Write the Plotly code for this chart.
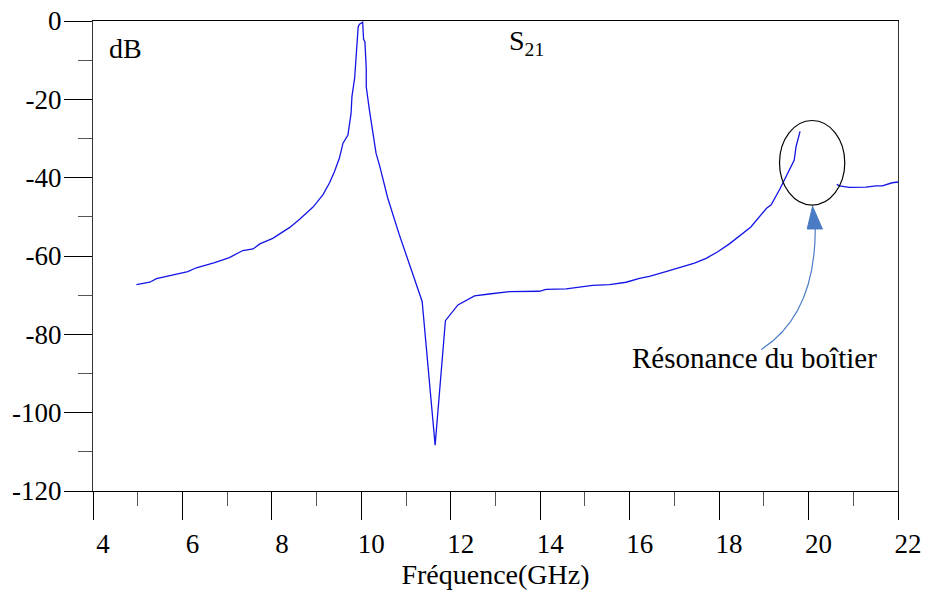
import plotly.graph_objects as go

# S21 trace (GHz, dB); None marks the gap inside the ellipse
freq_ghz = [4.97, 5.27, 5.42, 5.79, 6.12, 6.31, 6.72, 7.05, 7.35, 7.58, 7.73, 8.02, 8.40,
            8.62, 8.92, 9.14, 9.29, 9.40, 9.51, 9.59, 9.70, 9.77, 9.79, 9.85, 9.89, 9.92,
            9.93, 9.96, 10.02, 10.03, 10.05, 10.08, 10.11, 10.11, 10.18, 10.24, 10.33,
            10.41, 10.59, 10.85, 11.15, 11.36, 11.65, 11.88, 12.16, 12.53, 12.86, 13.31,
            13.98, 14.13, 14.58, 14.80, 15.17, 15.55, 15.77, 15.92, 16.22, 16.44, 16.81,
            17.11, 17.45, 17.71, 17.97, 18.23, 18.71, 19.06, 19.16, 19.35, 19.57, 19.68,
            19.72, 19.75, 19.81, 20.2,
            20.63, 20.69, 20.91, 21.28, 21.51, 21.65, 21.87, 22.0]
s21_db = [-67.3, -66.7, -65.8, -64.9, -64.0, -63.0, -61.7, -60.4, -58.6, -58.2, -56.9, -55.5,
          -52.7, -50.6, -47.5, -44.4, -41.3, -38.4, -35.0, -31.2, -29.1, -23.6, -19.3, -14.6,
          -8.2, -5.7, -1.45, -0.8, -0.4, -0.3, -4.7, -5.3, -12.1, -16.8, -22.7, -27.4, -33.8,
          -37.0, -45.2, -54.6, -64.8, -71.6, -108.3, -76.5, -72.5, -70.2, -69.7, -69.1,
          -69.0, -68.5, -68.4, -68.0, -67.5, -67.3, -66.9, -66.7, -65.7, -65.2, -64.0,
          -62.9, -61.8, -60.6, -58.9, -56.9, -52.6, -47.8, -47.0, -43.1, -38.0, -35.5,
          -32.1, -30.8, -28.2, None,
          -41.7, -42.1, -42.5, -42.4, -42.1, -42.1, -41.3, -41.1]

x_ticks = [4, 6, 8, 10, 12, 14, 16, 18, 20, 22]
x_minor = [5, 7, 9, 11, 13, 15, 17, 19, 21]
y_ticks = [0, -20, -40, -60, -80, -100, -120]
y_ticktext = ["0", "-20", "-40", "-60", "-80", "-100", "-120"]
y_minor = [-10, -30, -50, -70, -90, -110]

# annotation geometry (data units)
ellipse_box = (19.35, -47.0, 20.81, -25.4)
arrow_start = (18.94, -83.9)
arrow_ctrl = (20.15, -75.0)
arrow_end = (20.15, -53.1)
arrow_tip = (20.09, -47.3)
arrow_base = (19.97, 20.31, -53.1)

SERIF = "Liberation Serif"

fig = go.Figure()
fig.add_trace(go.Scatter(x=freq_ghz, y=s21_db, mode="lines", connectgaps=False,
                         line=dict(color="#1414e6", width=1.3), showlegend=False,
                         hoverinfo="skip"))

fig.update_layout(
    width=928, height=599,
    margin=dict(l=93, r=30, t=21, b=108, autoexpand=False),
    paper_bgcolor="white", plot_bgcolor="white",
    font=dict(family=SERIF, color="black"),
)
fig.update_xaxes(
    range=[4, 22], tickmode="array", tickvals=x_ticks,
    ticks="outside", ticklen=28, tickwidth=1, tickcolor="black",
    minor=dict(tickmode="array", tickvals=x_minor, ticks="outside", ticklen=14,
               tickcolor="#555555", tickwidth=1),
    showline=True, linecolor="black", linewidth=1.3, mirror=True,
    showgrid=False, zeroline=False, automargin=False,
    tickfont=dict(family=SERIF, size=27, color="black"),
    ticklabelshift=10, ticklabeloverflow="allow",
    title=dict(text="Fréquence(GHz)", font=dict(family=SERIF, size=28, color="black"),
               standoff=6),
)
fig.update_yaxes(
    range=[-120, 0], tickmode="array", tickvals=y_ticks, ticktext=y_ticktext,
    ticks="outside", ticklen=28, tickwidth=1, tickcolor="black",
    minor=dict(tickmode="array", tickvals=y_minor, ticks="outside", ticklen=14,
               tickcolor="#555555", tickwidth=1),
    showline=True, linecolor="#333333", linewidth=1, mirror=True,
    showgrid=False, zeroline=False, automargin=False,
    tickfont=dict(family=SERIF, size=27, color="black"),
    ticklabelstandoff=-3, ticklabeloverflow="allow",
)

fig.add_shape(type="circle", xref="x", yref="y",
              x0=ellipse_box[0], y0=ellipse_box[1], x1=ellipse_box[2], y1=ellipse_box[3],
              line=dict(color="black", width=1.2))
fig.add_shape(type="path", xref="x", yref="y",
              path=f"M {arrow_start[0]},{arrow_start[1]} Q {arrow_ctrl[0]},{arrow_ctrl[1]} "
                   f"{arrow_end[0]},{arrow_end[1]}",
              line=dict(color="#4a7bc4", width=1.2))
fig.add_shape(type="path", xref="x", yref="y",
              path=f"M {arrow_tip[0]},{arrow_tip[1]} L {arrow_base[0]},{arrow_base[2]} "
                   f"L {arrow_base[1]},{arrow_base[2]} Z",
              line=dict(color="#4a7bc4", width=1), fillcolor="#4a7bc4")

fig.add_annotation(x=4.73, y=-6.9, xref="x", yref="y", text="dB", showarrow=False,
                   font=dict(family=SERIF, size=28, color="black"))
fig.add_annotation(x=13.69, y=-5.6, xref="x", yref="y", text="S<sub>21</sub>",
                   showarrow=False, font=dict(family=SERIF, size=28, color="black"))
fig.add_annotation(x=18.79, y=-86.0, xref="x", yref="y", text="Résonance du boîtier",
                   showarrow=False, font=dict(family=SERIF, size=29, color="black"))

# remove the default page margin so the figure sits at the window's top-left corner
fig.write_html("out.html", config={"displayModeBar": False},
               post_script="document.body.style.margin='0';")
